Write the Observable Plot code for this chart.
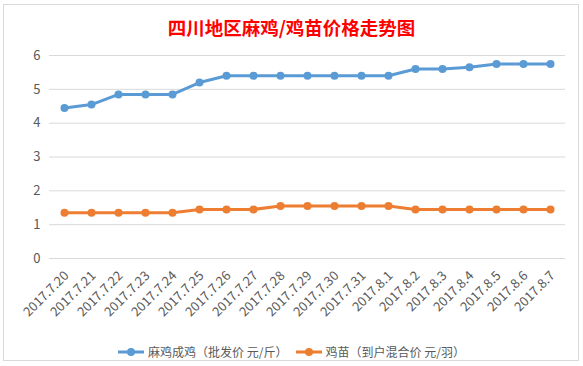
<!DOCTYPE html>
<html>
<head>
<meta charset="utf-8">
<script src="https://cdn.jsdelivr.net/npm/d3@7"></script>
<script src="https://cdn.jsdelivr.net/npm/@observablehq/plot@0.6"></script>
<style>
  html, body { margin: 0; padding: 0; background: #fff; }
  #wrap { position: relative; width: 583px; height: 366px; overflow: hidden; font-family: "Noto Sans CJK SC", sans-serif; }
  #frame { position: absolute; left: 3px; top: 4px; width: 576px; height: 357px; border: 1px solid #d9d9d9; box-sizing: border-box; }
  #title { position: absolute; left: 0; width: 583px; top: 15px; text-align: center; color: #ff0000; font-weight: bold; font-size: 18.5px; line-height: 24px; }
  #chart { position: absolute; left: 0; top: 0; }
  #legend { position: absolute; left: 0; width: 583px; top: 344px; display: flex; justify-content: center; align-items: center; font-size: 12px; color: #595959; line-height: 16px; }
  #legend .item { display: flex; align-items: center; margin: 0 4px; }
  #legend svg { margin-right: 4px; }
</style>
</head>
<body>
<div id="wrap">
  <div id="frame"></div>
  <div id="chart"></div>
  <div id="title"></div>
  <div id="legend"></div>
</div>
<script>
const titleText = "四川地区麻鸡/鸡苗价格走势图";
const dates = ["2017.7.20","2017.7.21","2017.7.22","2017.7.23","2017.7.24","2017.7.25","2017.7.26","2017.7.27","2017.7.28","2017.7.29","2017.7.30","2017.7.31","2017.8.1","2017.8.2","2017.8.3","2017.8.4","2017.8.5","2017.8.6","2017.8.7"];
const seriesNames = ["麻鸡成鸡（批发价 元/斤）", "鸡苗（到户混合价 元/羽）"];
const adultChicken = [4.45,4.55,4.85,4.85,4.85,5.2,5.4,5.4,5.4,5.4,5.4,5.4,5.4,5.6,5.6,5.65,5.75,5.75,5.75];
const chicks = [1.35,1.35,1.35,1.35,1.35,1.45,1.45,1.45,1.55,1.55,1.55,1.55,1.55,1.45,1.45,1.45,1.45,1.45,1.45];
const yTicks = [0,1,2,3,4,5,6];
const colors = ["#5b9bd5", "#ed7d31"];

const rows = [];
dates.forEach((d, i) => {
  rows.push({date: d, value: adultChicken[i], series: seriesNames[0]});
  rows.push({date: d, value: chicks[i], series: seriesNames[1]});
});

document.getElementById("title").textContent = titleText;

const plot = Plot.plot({
  width: 583,
  height: 366,
  marginLeft: 49,
  marginRight: 18,
  marginTop: 55,
  marginBottom: 108,
  style: {background: "transparent", fontFamily: "Noto Sans CJK SC, sans-serif", fontSize: "12px", color: "#595959"},
  x: {type: "point", domain: dates, padding: 0.5, axis: null},
  y: {domain: [0, 6], ticks: yTicks, axis: null},
  color: {domain: seriesNames, range: colors},
  marks: [
    Plot.ruleY(yTicks, {stroke: "#d9d9d9", strokeWidth: 1}),
    Plot.text(yTicks, {x: null, y: d => d, text: d => String(d), frameAnchor: "left", textAnchor: "end", dx: -9, fill: "#595959", fontSize: 13}),
    Plot.line(rows, {x: "date", y: "value", stroke: "series", strokeWidth: 3}),
    Plot.dot(rows, {x: "date", y: "value", fill: "series", r: 4}),
    Plot.text(dates, {x: d => d, frameAnchor: "bottom", text: d => d, rotate: -45, textAnchor: "end", dx: 5, dy: 18, fill: "#595959", fontSize: 13})
  ]
});
document.getElementById("chart").appendChild(plot);

const legend = document.getElementById("legend");
seriesNames.forEach((name, i) => {
  const item = document.createElement("div");
  item.className = "item";
  item.innerHTML = `<svg width="26" height="10"><line x1="0" x2="26" y1="5" y2="5" stroke="${colors[i]}" stroke-width="3"/><circle cx="13" cy="5" r="4" fill="${colors[i]}"/></svg><span></span>`;
  item.querySelector("span").textContent = name;
  legend.appendChild(item);
});
</script>
</body>
</html>
